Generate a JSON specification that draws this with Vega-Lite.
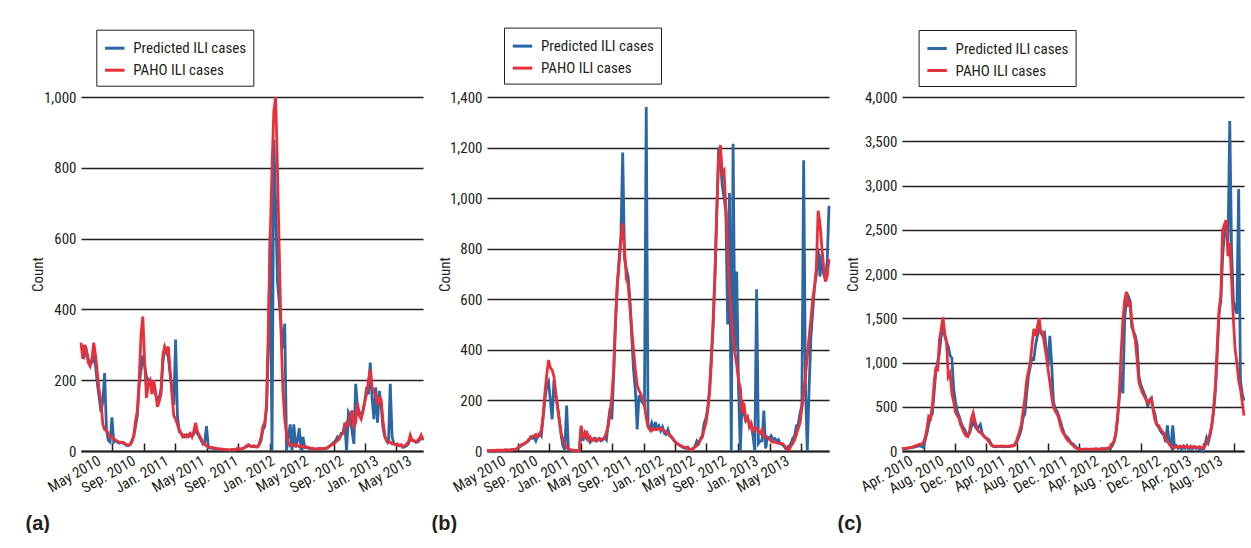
{
"$schema": "https://vega.github.io/schema/vega-lite/v6.json",
"background": "white",
"padding": {"left": 25, "top": 27, "right": 0, "bottom": 0},
"datasets": {
"a": [
{"week":"2010-01-03","predicted":300,"paho":306},{"week":"2010-01-10","predicted":290,"paho":260},{"week":"2010-01-17","predicted":270,"paho":300},{"week":"2010-01-24","predicted":285,"paho":280},{"week":"2010-01-31","predicted":260,"paho":250},{"week":"2010-02-07","predicted":245,"paho":240},{"week":"2010-02-14","predicted":250,"paho":260},{"week":"2010-02-21","predicted":270,"paho":306},{"week":"2010-02-28","predicted":240,"paho":270},{"week":"2010-03-07","predicted":190,"paho":220},
{"week":"2010-03-14","predicted":150,"paho":170},{"week":"2010-03-21","predicted":110,"paho":140},{"week":"2010-03-28","predicted":140,"paho":75},{"week":"2010-04-04","predicted":220,"paho":60},{"week":"2010-04-11","predicted":60,"paho":58},{"week":"2010-04-18","predicted":30,"paho":50},{"week":"2010-04-25","predicted":25,"paho":38},{"week":"2010-05-02","predicted":95,"paho":40},{"week":"2010-05-09","predicted":25,"paho":35},{"week":"2010-05-16","predicted":30,"paho":30},
{"week":"2010-05-23","predicted":25,"paho":28},{"week":"2010-05-30","predicted":22,"paho":25},{"week":"2010-06-06","predicted":25,"paho":24},{"week":"2010-06-13","predicted":22,"paho":25},{"week":"2010-06-20","predicted":20,"paho":22},{"week":"2010-06-27","predicted":16,"paho":18},{"week":"2010-07-04","predicted":15,"paho":16},{"week":"2010-07-11","predicted":18,"paho":18},{"week":"2010-07-18","predicted":30,"paho":25},{"week":"2010-07-25","predicted":40,"paho":45},
{"week":"2010-08-01","predicted":70,"paho":85},{"week":"2010-08-08","predicted":100,"paho":115},{"week":"2010-08-15","predicted":190,"paho":200},{"week":"2010-08-22","predicted":230,"paho":330},{"week":"2010-08-29","predicted":270,"paho":380},{"week":"2010-09-05","predicted":240,"paho":250},{"week":"2010-09-12","predicted":210,"paho":150},{"week":"2010-09-19","predicted":200,"paho":190},{"week":"2010-09-26","predicted":190,"paho":200},{"week":"2010-10-03","predicted":175,"paho":160},
{"week":"2010-10-10","predicted":180,"paho":200},{"week":"2010-10-17","predicted":160,"paho":165},{"week":"2010-10-24","predicted":145,"paho":125},{"week":"2010-10-31","predicted":150,"paho":140},{"week":"2010-11-07","predicted":175,"paho":160},{"week":"2010-11-14","predicted":250,"paho":270},{"week":"2010-11-21","predicted":290,"paho":295},{"week":"2010-11-28","predicted":280,"paho":280},{"week":"2010-12-05","predicted":265,"paho":295},{"week":"2010-12-12","predicted":215,"paho":230},
{"week":"2010-12-19","predicted":175,"paho":160},{"week":"2010-12-26","predicted":130,"paho":100},{"week":"2011-01-02","predicted":315,"paho":90},{"week":"2011-01-09","predicted":100,"paho":75},{"week":"2011-01-16","predicted":55,"paho":60},{"week":"2011-01-23","predicted":50,"paho":50},{"week":"2011-01-30","predicted":45,"paho":40},{"week":"2011-02-06","predicted":40,"paho":45},{"week":"2011-02-13","predicted":45,"paho":40},{"week":"2011-02-20","predicted":40,"paho":45},
{"week":"2011-02-27","predicted":45,"paho":50},{"week":"2011-03-06","predicted":42,"paho":40},{"week":"2011-03-13","predicted":48,"paho":55},{"week":"2011-03-20","predicted":60,"paho":80},{"week":"2011-03-27","predicted":50,"paho":55},{"week":"2011-04-03","predicted":40,"paho":45},{"week":"2011-04-10","predicted":30,"paho":35},{"week":"2011-04-17","predicted":20,"paho":25},{"week":"2011-04-24","predicted":25,"paho":18},{"week":"2011-05-01","predicted":70,"paho":15},
{"week":"2011-05-08","predicted":10,"paho":12},{"week":"2011-05-15","predicted":8,"paho":10},{"week":"2011-05-22","predicted":8,"paho":10},{"week":"2011-05-29","predicted":7,"paho":8},{"week":"2011-06-05","predicted":6,"paho":8},{"week":"2011-06-12","predicted":5,"paho":6},{"week":"2011-06-19","predicted":5,"paho":6},{"week":"2011-06-26","predicted":5,"paho":5},{"week":"2011-07-03","predicted":4,"paho":5},{"week":"2011-07-10","predicted":3,"paho":4},
{"week":"2011-07-17","predicted":4,"paho":4},{"week":"2011-07-24","predicted":3,"paho":3},{"week":"2011-07-31","predicted":2,"paho":3},{"week":"2011-08-07","predicted":4,"paho":5},{"week":"2011-08-14","predicted":3,"paho":3},{"week":"2011-08-21","predicted":5,"paho":4},{"week":"2011-08-28","predicted":6,"paho":8},{"week":"2011-09-04","predicted":5,"paho":6},{"week":"2011-09-11","predicted":6,"paho":5},{"week":"2011-09-18","predicted":7,"paho":8},
{"week":"2011-09-25","predicted":10,"paho":10},{"week":"2011-10-02","predicted":12,"paho":15},{"week":"2011-10-09","predicted":15,"paho":18},{"week":"2011-10-16","predicted":14,"paho":15},{"week":"2011-10-23","predicted":12,"paho":12},{"week":"2011-10-30","predicted":13,"paho":15},{"week":"2011-11-06","predicted":12,"paho":12},{"week":"2011-11-13","predicted":12,"paho":12},{"week":"2011-11-20","predicted":18,"paho":20},{"week":"2011-11-27","predicted":30,"paho":40},
{"week":"2011-12-04","predicted":60,"paho":70},{"week":"2011-12-11","predicted":70,"paho":80},{"week":"2011-12-18","predicted":120,"paho":130},{"week":"2011-12-25","predicted":300,"paho":350},{"week":"2012-01-01","predicted":620,"paho":600},{"week":"2012-01-08","predicted":0,"paho":800},{"week":"2012-01-15","predicted":880,"paho":960},{"week":"2012-01-22","predicted":700,"paho":1000},{"week":"2012-01-29","predicted":480,"paho":800},{"week":"2012-02-05","predicted":420,"paho":560},
{"week":"2012-02-12","predicted":350,"paho":330},{"week":"2012-02-19","predicted":290,"paho":170},{"week":"2012-02-26","predicted":360,"paho":90},{"week":"2012-03-04","predicted":0,"paho":45},{"week":"2012-03-11","predicted":40,"paho":25},{"week":"2012-03-18","predicted":75,"paho":15},{"week":"2012-03-25","predicted":0,"paho":18},{"week":"2012-04-01","predicted":75,"paho":15},{"week":"2012-04-08","predicted":10,"paho":20},{"week":"2012-04-15","predicted":30,"paho":15},
{"week":"2012-04-22","predicted":65,"paho":12},{"week":"2012-04-29","predicted":0,"paho":15},{"week":"2012-05-06","predicted":40,"paho":12},{"week":"2012-05-13","predicted":10,"paho":10},{"week":"2012-05-20","predicted":10,"paho":12},{"week":"2012-05-27","predicted":8,"paho":10},{"week":"2012-06-03","predicted":7,"paho":8},{"week":"2012-06-10","predicted":6,"paho":8},{"week":"2012-06-17","predicted":5,"paho":6},{"week":"2012-06-24","predicted":5,"paho":6},
{"week":"2012-07-01","predicted":6,"paho":6},{"week":"2012-07-08","predicted":6,"paho":7},{"week":"2012-07-15","predicted":7,"paho":7},{"week":"2012-07-22","predicted":5,"paho":6},{"week":"2012-07-29","predicted":7,"paho":8},{"week":"2012-08-05","predicted":8,"paho":8},{"week":"2012-08-12","predicted":12,"paho":10},{"week":"2012-08-19","predicted":15,"paho":15},{"week":"2012-08-26","predicted":20,"paho":18},{"week":"2012-09-02","predicted":25,"paho":20},
{"week":"2012-09-09","predicted":30,"paho":25},{"week":"2012-09-16","predicted":40,"paho":30},{"week":"2012-09-23","predicted":35,"paho":38},{"week":"2012-09-30","predicted":50,"paho":45},{"week":"2012-10-07","predicted":50,"paho":50},{"week":"2012-10-14","predicted":80,"paho":70},{"week":"2012-10-21","predicted":0,"paho":80},{"week":"2012-10-28","predicted":110,"paho":72},{"week":"2012-11-04","predicted":100,"paho":95},{"week":"2012-11-11","predicted":55,"paho":115},
{"week":"2012-11-18","predicted":20,"paho":70},{"week":"2012-11-25","predicted":190,"paho":80},{"week":"2012-12-02","predicted":125,"paho":135},{"week":"2012-12-09","predicted":110,"paho":100},{"week":"2012-12-16","predicted":100,"paho":90},{"week":"2012-12-23","predicted":115,"paho":110},{"week":"2012-12-30","predicted":140,"paho":140},{"week":"2013-01-06","predicted":180,"paho":160},{"week":"2013-01-13","predicted":160,"paho":200},{"week":"2013-01-20","predicted":250,"paho":230},
{"week":"2013-01-27","predicted":150,"paho":180},{"week":"2013-02-03","predicted":90,"paho":165},{"week":"2013-02-10","predicted":180,"paho":160},{"week":"2013-02-17","predicted":80,"paho":130},{"week":"2013-02-24","predicted":170,"paho":150},{"week":"2013-03-03","predicted":130,"paho":145},{"week":"2013-03-10","predicted":65,"paho":85},{"week":"2013-03-17","predicted":40,"paho":45},{"week":"2013-03-24","predicted":30,"paho":28},{"week":"2013-03-31","predicted":20,"paho":25},
{"week":"2013-04-07","predicted":190,"paho":25},{"week":"2013-04-14","predicted":40,"paho":20},{"week":"2013-04-21","predicted":20,"paho":20},{"week":"2013-04-28","predicted":18,"paho":18},{"week":"2013-05-05","predicted":17,"paho":20},{"week":"2013-05-12","predicted":15,"paho":15},{"week":"2013-05-19","predicted":15,"paho":18},{"week":"2013-05-26","predicted":10,"paho":12},{"week":"2013-06-02","predicted":12,"paho":15},{"week":"2013-06-09","predicted":15,"paho":20},
{"week":"2013-06-16","predicted":20,"paho":25},{"week":"2013-06-23","predicted":35,"paho":45},{"week":"2013-06-30","predicted":30,"paho":30},{"week":"2013-07-07","predicted":28,"paho":30},{"week":"2013-07-14","predicted":25,"paho":25},{"week":"2013-07-21","predicted":25,"paho":30},{"week":"2013-07-28","predicted":30,"paho":35},{"week":"2013-08-04","predicted":40,"paho":45},{"week":"2013-08-11","predicted":35,"paho":30}
],
"b": [
{"week":"2010-01-03","predicted":1,"paho":2},{"week":"2010-01-10","predicted":2,"paho":2},{"week":"2010-01-17","predicted":1,"paho":1},{"week":"2010-01-24","predicted":2,"paho":2},{"week":"2010-01-31","predicted":1,"paho":2},{"week":"2010-02-07","predicted":2,"paho":3},{"week":"2010-02-14","predicted":3,"paho":2},{"week":"2010-02-21","predicted":2,"paho":3},{"week":"2010-02-28","predicted":3,"paho":2},{"week":"2010-03-07","predicted":2,"paho":3},
{"week":"2010-03-14","predicted":3,"paho":4},{"week":"2010-03-21","predicted":4,"paho":3},{"week":"2010-03-28","predicted":3,"paho":3},{"week":"2010-04-04","predicted":4,"paho":4},{"week":"2010-04-11","predicted":4,"paho":5},{"week":"2010-04-18","predicted":5,"paho":6},{"week":"2010-04-25","predicted":8,"paho":8},{"week":"2010-05-02","predicted":10,"paho":12},{"week":"2010-05-09","predicted":15,"paho":18},{"week":"2010-05-16","predicted":22,"paho":25},
{"week":"2010-05-23","predicted":25,"paho":28},{"week":"2010-05-30","predicted":30,"paho":32},{"week":"2010-06-06","predicted":35,"paho":35},{"week":"2010-06-13","predicted":40,"paho":45},{"week":"2010-06-20","predicted":55,"paho":50},{"week":"2010-06-27","predicted":50,"paho":58},{"week":"2010-07-04","predicted":55,"paho":60},{"week":"2010-07-11","predicted":40,"paho":65},{"week":"2010-07-18","predicted":60,"paho":55},{"week":"2010-07-25","predicted":70,"paho":60},
{"week":"2010-08-01","predicted":60,"paho":80},{"week":"2010-08-08","predicted":130,"paho":140},{"week":"2010-08-15","predicted":200,"paho":230},{"week":"2010-08-22","predicted":260,"paho":300},{"week":"2010-08-29","predicted":275,"paho":360},{"week":"2010-09-05","predicted":200,"paho":330},{"week":"2010-09-12","predicted":125,"paho":320},{"week":"2010-09-19","predicted":280,"paho":295},{"week":"2010-09-26","predicted":220,"paho":230},{"week":"2010-10-03","predicted":180,"paho":170},
{"week":"2010-10-10","predicted":120,"paho":120},{"week":"2010-10-17","predicted":60,"paho":70},{"week":"2010-10-24","predicted":20,"paho":45},{"week":"2010-10-31","predicted":5,"paho":25},{"week":"2010-11-07","predicted":180,"paho":15},{"week":"2010-11-14","predicted":5,"paho":10},{"week":"2010-11-21","predicted":3,"paho":6},{"week":"2010-11-28","predicted":2,"paho":4},{"week":"2010-12-05","predicted":3,"paho":2},{"week":"2010-12-12","predicted":2,"paho":1},
{"week":"2010-12-19","predicted":1,"paho":0},{"week":"2010-12-26","predicted":0,"paho":2},{"week":"2011-01-02","predicted":90,"paho":100},{"week":"2011-01-09","predicted":40,"paho":60},{"week":"2011-01-16","predicted":70,"paho":55},{"week":"2011-01-23","predicted":50,"paho":80},{"week":"2011-01-30","predicted":60,"paho":45},{"week":"2011-02-06","predicted":35,"paho":55},{"week":"2011-02-13","predicted":45,"paho":40},{"week":"2011-02-20","predicted":50,"paho":45},
{"week":"2011-02-27","predicted":40,"paho":50},{"week":"2011-03-06","predicted":45,"paho":40},{"week":"2011-03-13","predicted":50,"paho":45},{"week":"2011-03-20","predicted":40,"paho":48},{"week":"2011-03-27","predicted":45,"paho":45},{"week":"2011-04-03","predicted":55,"paho":50},{"week":"2011-04-10","predicted":45,"paho":75},{"week":"2011-04-17","predicted":110,"paho":100},{"week":"2011-04-24","predicted":170,"paho":150},{"week":"2011-05-01","predicted":125,"paho":220},
{"week":"2011-05-08","predicted":300,"paho":320},{"week":"2011-05-15","predicted":500,"paho":520},{"week":"2011-05-22","predicted":650,"paho":660},{"week":"2011-05-29","predicted":760,"paho":740},{"week":"2011-06-05","predicted":850,"paho":830},{"week":"2011-06-12","predicted":1180,"paho":900},{"week":"2011-06-19","predicted":760,"paho":800},{"week":"2011-06-26","predicted":720,"paho":680},{"week":"2011-07-03","predicted":690,"paho":660},{"week":"2011-07-10","predicted":600,"paho":570},
{"week":"2011-07-17","predicted":450,"paho":480},{"week":"2011-07-24","predicted":320,"paho":400},{"week":"2011-07-31","predicted":240,"paho":320},{"week":"2011-08-07","predicted":85,"paho":260},{"week":"2011-08-14","predicted":220,"paho":240},{"week":"2011-08-21","predicted":200,"paho":225},{"week":"2011-08-28","predicted":190,"paho":210},{"week":"2011-09-04","predicted":180,"paho":180},{"week":"2011-09-11","predicted":1360,"paho":130},{"week":"2011-09-18","predicted":100,"paho":95},
{"week":"2011-09-25","predicted":85,"paho":85},{"week":"2011-10-02","predicted":110,"paho":80},{"week":"2011-10-09","predicted":80,"paho":90},{"week":"2011-10-16","predicted":115,"paho":85},{"week":"2011-10-23","predicted":90,"paho":85},{"week":"2011-10-30","predicted":100,"paho":90},{"week":"2011-11-06","predicted":80,"paho":88},{"week":"2011-11-13","predicted":95,"paho":85},{"week":"2011-11-20","predicted":70,"paho":80},{"week":"2011-11-27","predicted":65,"paho":75},
{"week":"2011-12-04","predicted":85,"paho":70},{"week":"2011-12-11","predicted":60,"paho":65},{"week":"2011-12-18","predicted":55,"paho":55},{"week":"2011-12-25","predicted":45,"paho":45},{"week":"2012-01-01","predicted":35,"paho":38},{"week":"2012-01-08","predicted":30,"paho":30},{"week":"2012-01-15","predicted":25,"paho":25},{"week":"2012-01-22","predicted":20,"paho":22},{"week":"2012-01-29","predicted":15,"paho":18},{"week":"2012-02-05","predicted":12,"paho":15},
{"week":"2012-02-12","predicted":10,"paho":14},{"week":"2012-02-19","predicted":15,"paho":10},{"week":"2012-02-26","predicted":5,"paho":8},{"week":"2012-03-04","predicted":8,"paho":3},{"week":"2012-03-11","predicted":10,"paho":10},{"week":"2012-03-18","predicted":20,"paho":15},{"week":"2012-03-25","predicted":40,"paho":22},{"week":"2012-04-01","predicted":30,"paho":30},{"week":"2012-04-08","predicted":50,"paho":45},{"week":"2012-04-15","predicted":60,"paho":55},
{"week":"2012-04-22","predicted":110,"paho":85},{"week":"2012-04-29","predicted":130,"paho":110},{"week":"2012-05-06","predicted":170,"paho":160},{"week":"2012-05-13","predicted":250,"paho":230},{"week":"2012-05-20","predicted":380,"paho":350},{"week":"2012-05-27","predicted":500,"paho":520},{"week":"2012-06-03","predicted":700,"paho":700},{"week":"2012-06-10","predicted":950,"paho":950},{"week":"2012-06-17","predicted":1200,"paho":1150},{"week":"2012-06-24","predicted":1150,"paho":1210},
{"week":"2012-07-01","predicted":1050,"paho":1100},{"week":"2012-07-08","predicted":1000,"paho":1110},{"week":"2012-07-15","predicted":950,"paho":960},{"week":"2012-07-22","predicted":500,"paho":800},{"week":"2012-07-29","predicted":1020,"paho":640},{"week":"2012-08-05","predicted":0,"paho":530},{"week":"2012-08-12","predicted":1215,"paho":450},{"week":"2012-08-19","predicted":400,"paho":390},{"week":"2012-08-26","predicted":710,"paho":340},{"week":"2012-09-02","predicted":250,"paho":280},
{"week":"2012-09-09","predicted":0,"paho":250},{"week":"2012-09-16","predicted":200,"paho":150},{"week":"2012-09-23","predicted":150,"paho":190},{"week":"2012-09-30","predicted":120,"paho":125},{"week":"2012-10-07","predicted":130,"paho":135},{"week":"2012-10-14","predicted":110,"paho":95},{"week":"2012-10-21","predicted":100,"paho":110},{"week":"2012-10-28","predicted":60,"paho":80},{"week":"2012-11-04","predicted":0,"paho":90},{"week":"2012-11-11","predicted":640,"paho":90},
{"week":"2012-11-18","predicted":30,"paho":75},{"week":"2012-11-25","predicted":40,"paho":70},{"week":"2012-12-02","predicted":40,"paho":85},{"week":"2012-12-09","predicted":160,"paho":60},{"week":"2012-12-16","predicted":10,"paho":55},{"week":"2012-12-23","predicted":55,"paho":52},{"week":"2012-12-30","predicted":50,"paho":50},{"week":"2013-01-06","predicted":60,"paho":40},{"week":"2013-01-13","predicted":45,"paho":35},{"week":"2013-01-20","predicted":50,"paho":35},
{"week":"2013-01-27","predicted":40,"paho":33},{"week":"2013-02-03","predicted":45,"paho":30},{"week":"2013-02-10","predicted":30,"paho":30},{"week":"2013-02-17","predicted":25,"paho":30},{"week":"2013-02-24","predicted":20,"paho":25},{"week":"2013-03-03","predicted":10,"paho":15},{"week":"2013-03-10","predicted":15,"paho":8},{"week":"2013-03-17","predicted":20,"paho":5},{"week":"2013-03-24","predicted":30,"paho":20},{"week":"2013-03-31","predicted":50,"paho":30},
{"week":"2013-04-07","predicted":60,"paho":45},{"week":"2013-04-14","predicted":100,"paho":65},{"week":"2013-04-21","predicted":105,"paho":90},{"week":"2013-04-28","predicted":150,"paho":110},{"week":"2013-05-05","predicted":180,"paho":170},{"week":"2013-05-12","predicted":1150,"paho":230},{"week":"2013-05-19","predicted":250,"paho":300},{"week":"2013-05-26","predicted":0,"paho":370},{"week":"2013-06-02","predicted":250,"paho":450},{"week":"2013-06-09","predicted":450,"paho":520},
{"week":"2013-06-16","predicted":550,"paho":600},{"week":"2013-06-23","predicted":650,"paho":650},{"week":"2013-06-30","predicted":700,"paho":720},{"week":"2013-07-07","predicted":800,"paho":950},{"week":"2013-07-14","predicted":690,"paho":900},{"week":"2013-07-21","predicted":780,"paho":810},{"week":"2013-07-28","predicted":700,"paho":730},{"week":"2013-08-04","predicted":680,"paho":670},{"week":"2013-08-11","predicted":750,"paho":690},{"week":"2013-08-18","predicted":970,"paho":760}
],
"c": [
{"week":"2010-01-03","predicted":25,"paho":30},{"week":"2010-01-10","predicted":25,"paho":30},{"week":"2010-01-17","predicted":28,"paho":30},{"week":"2010-01-24","predicted":30,"paho":35},{"week":"2010-01-31","predicted":35,"paho":35},{"week":"2010-02-07","predicted":35,"paho":40},{"week":"2010-02-14","predicted":40,"paho":45},{"week":"2010-02-21","predicted":45,"paho":55},{"week":"2010-02-28","predicted":50,"paho":60},{"week":"2010-03-07","predicted":55,"paho":70},
{"week":"2010-03-14","predicted":60,"paho":75},{"week":"2010-03-21","predicted":50,"paho":80},{"week":"2010-03-28","predicted":40,"paho":100},{"week":"2010-04-04","predicted":120,"paho":150},{"week":"2010-04-11","predicted":200,"paho":250},{"week":"2010-04-18","predicted":300,"paho":390},{"week":"2010-04-25","predicted":380,"paho":370},{"week":"2010-05-02","predicted":420,"paho":500},{"week":"2010-05-09","predicted":650,"paho":760},{"week":"2010-05-16","predicted":900,"paho":950},
{"week":"2010-05-23","predicted":1000,"paho":900},{"week":"2010-05-30","predicted":1100,"paho":1250},{"week":"2010-06-06","predicted":1300,"paho":1380},{"week":"2010-06-13","predicted":1400,"paho":1510},{"week":"2010-06-20","predicted":1300,"paho":1330},{"week":"2010-06-27","predicted":1230,"paho":1230},{"week":"2010-07-04","predicted":1180,"paho":840},{"week":"2010-07-11","predicted":1080,"paho":880},{"week":"2010-07-18","predicted":1050,"paho":650},{"week":"2010-07-25","predicted":700,"paho":560},
{"week":"2010-08-01","predicted":560,"paho":440},{"week":"2010-08-08","predicted":450,"paho":400},{"week":"2010-08-15","predicted":400,"paho":370},{"week":"2010-08-22","predicted":330,"paho":290},{"week":"2010-08-29","predicted":280,"paho":250},{"week":"2010-09-05","predicted":250,"paho":200},{"week":"2010-09-12","predicted":200,"paho":170},{"week":"2010-09-19","predicted":180,"paho":160},{"week":"2010-09-26","predicted":200,"paho":230},{"week":"2010-10-03","predicted":280,"paho":370},
{"week":"2010-10-10","predicted":330,"paho":430},{"week":"2010-10-17","predicted":280,"paho":330},{"week":"2010-10-24","predicted":250,"paho":270},{"week":"2010-10-31","predicted":270,"paho":220},{"week":"2010-11-07","predicted":300,"paho":210},{"week":"2010-11-14","predicted":200,"paho":190},{"week":"2010-11-21","predicted":170,"paho":165},{"week":"2010-11-28","predicted":150,"paho":150},{"week":"2010-12-05","predicted":140,"paho":125},{"week":"2010-12-12","predicted":120,"paho":100},
{"week":"2010-12-19","predicted":80,"paho":70},{"week":"2010-12-26","predicted":55,"paho":55},{"week":"2011-01-02","predicted":50,"paho":55},{"week":"2011-01-09","predicted":48,"paho":55},{"week":"2011-01-16","predicted":50,"paho":52},{"week":"2011-01-23","predicted":52,"paho":55},{"week":"2011-01-30","predicted":50,"paho":58},{"week":"2011-02-06","predicted":48,"paho":55},{"week":"2011-02-13","predicted":50,"paho":52},{"week":"2011-02-20","predicted":52,"paho":55},
{"week":"2011-02-27","predicted":50,"paho":55},{"week":"2011-03-06","predicted":55,"paho":58},{"week":"2011-03-13","predicted":60,"paho":55},{"week":"2011-03-20","predicted":70,"paho":60},{"week":"2011-03-27","predicted":80,"paho":100},{"week":"2011-04-03","predicted":130,"paho":160},{"week":"2011-04-10","predicted":180,"paho":220},{"week":"2011-04-17","predicted":250,"paho":300},{"week":"2011-04-24","predicted":380,"paho":450},{"week":"2011-05-01","predicted":420,"paho":600},
{"week":"2011-05-08","predicted":650,"paho":800},{"week":"2011-05-15","predicted":850,"paho":900},{"week":"2011-05-22","predicted":950,"paho":1000},{"week":"2011-05-29","predicted":1050,"paho":1200},{"week":"2011-06-05","predicted":1040,"paho":1380},{"week":"2011-06-12","predicted":1200,"paho":1300},{"week":"2011-06-19","predicted":1300,"paho":1400},{"week":"2011-06-26","predicted":1400,"paho":1500},{"week":"2011-07-03","predicted":1350,"paho":1330},{"week":"2011-07-10","predicted":1300,"paho":1340},
{"week":"2011-07-17","predicted":1330,"paho":1200},{"week":"2011-07-24","predicted":1150,"paho":1080},{"week":"2011-07-31","predicted":950,"paho":920},{"week":"2011-08-07","predicted":1300,"paho":780},{"week":"2011-08-14","predicted":990,"paho":620},{"week":"2011-08-21","predicted":560,"paho":500},{"week":"2011-08-28","predicted":480,"paho":450},{"week":"2011-09-04","predicted":450,"paho":420},{"week":"2011-09-11","predicted":400,"paho":370},{"week":"2011-09-18","predicted":330,"paho":280},
{"week":"2011-09-25","predicted":260,"paho":220},{"week":"2011-10-02","predicted":200,"paho":190},{"week":"2011-10-09","predicted":170,"paho":150},{"week":"2011-10-16","predicted":150,"paho":120},{"week":"2011-10-23","predicted":120,"paho":105},{"week":"2011-10-30","predicted":90,"paho":80},{"week":"2011-11-06","predicted":80,"paho":65},{"week":"2011-11-13","predicted":60,"paho":40},{"week":"2011-11-20","predicted":40,"paho":30},{"week":"2011-11-27","predicted":25,"paho":22},
{"week":"2011-12-04","predicted":20,"paho":20},{"week":"2011-12-11","predicted":15,"paho":18},{"week":"2011-12-18","predicted":18,"paho":20},{"week":"2011-12-25","predicted":20,"paho":22},{"week":"2012-01-01","predicted":15,"paho":20},{"week":"2012-01-08","predicted":18,"paho":18},{"week":"2012-01-15","predicted":20,"paho":20},{"week":"2012-01-22","predicted":15,"paho":22},{"week":"2012-01-29","predicted":20,"paho":20},{"week":"2012-02-05","predicted":22,"paho":25},
{"week":"2012-02-12","predicted":18,"paho":20},{"week":"2012-02-19","predicted":20,"paho":22},{"week":"2012-02-26","predicted":25,"paho":25},{"week":"2012-03-04","predicted":22,"paho":28},{"week":"2012-03-11","predicted":25,"paho":25},{"week":"2012-03-18","predicted":28,"paho":30},{"week":"2012-03-25","predicted":30,"paho":35},{"week":"2012-04-01","predicted":30,"paho":50},{"week":"2012-04-08","predicted":60,"paho":80},{"week":"2012-04-15","predicted":100,"paho":110},
{"week":"2012-04-22","predicted":180,"paho":200},{"week":"2012-04-29","predicted":350,"paho":390},{"week":"2012-05-06","predicted":600,"paho":650},{"week":"2012-05-13","predicted":900,"paho":1100},{"week":"2012-05-20","predicted":650,"paho":1480},{"week":"2012-05-27","predicted":1500,"paho":1700},{"week":"2012-06-03","predicted":1700,"paho":1800},{"week":"2012-06-10","predicted":1750,"paho":1630},{"week":"2012-06-17","predicted":1700,"paho":1690},{"week":"2012-06-24","predicted":1400,"paho":1470},
{"week":"2012-07-01","predicted":1350,"paho":1340},{"week":"2012-07-08","predicted":1300,"paho":1250},{"week":"2012-07-15","predicted":1200,"paho":1030},{"week":"2012-07-22","predicted":850,"paho":780},{"week":"2012-07-29","predicted":750,"paho":710},{"week":"2012-08-05","predicted":700,"paho":660},{"week":"2012-08-12","predicted":650,"paho":620},{"week":"2012-08-19","predicted":600,"paho":580},{"week":"2012-08-26","predicted":500,"paho":540},{"week":"2012-09-02","predicted":580,"paho":560},
{"week":"2012-09-09","predicted":600,"paho":590},{"week":"2012-09-16","predicted":480,"paho":460},{"week":"2012-09-23","predicted":420,"paho":350},{"week":"2012-09-30","predicted":300,"paho":300},{"week":"2012-10-07","predicted":270,"paho":290},{"week":"2012-10-14","predicted":230,"paho":250},{"week":"2012-10-21","predicted":200,"paho":220},{"week":"2012-10-28","predicted":180,"paho":200},{"week":"2012-11-04","predicted":100,"paho":130},{"week":"2012-11-11","predicted":290,"paho":110},
{"week":"2012-11-18","predicted":80,"paho":80},{"week":"2012-11-25","predicted":50,"paho":70},{"week":"2012-12-02","predicted":290,"paho":35},{"week":"2012-12-09","predicted":40,"paho":40},{"week":"2012-12-16","predicted":60,"paho":50},{"week":"2012-12-23","predicted":30,"paho":45},{"week":"2012-12-30","predicted":50,"paho":55},{"week":"2013-01-06","predicted":20,"paho":40},{"week":"2013-01-13","predicted":45,"paho":60},{"week":"2013-01-20","predicted":30,"paho":45},
{"week":"2013-01-27","predicted":60,"paho":50},{"week":"2013-02-03","predicted":20,"paho":35},{"week":"2013-02-10","predicted":40,"paho":55},{"week":"2013-02-17","predicted":25,"paho":40},{"week":"2013-02-24","predicted":50,"paho":50},{"week":"2013-03-03","predicted":30,"paho":45},{"week":"2013-03-10","predicted":40,"paho":35},{"week":"2013-03-17","predicted":20,"paho":50},{"week":"2013-03-24","predicted":30,"paho":40},{"week":"2013-03-31","predicted":0,"paho":30},
{"week":"2013-04-07","predicted":60,"paho":60},{"week":"2013-04-14","predicted":150,"paho":80},{"week":"2013-04-21","predicted":100,"paho":140},{"week":"2013-04-28","predicted":180,"paho":200},{"week":"2013-05-05","predicted":300,"paho":300},{"week":"2013-05-12","predicted":450,"paho":500},{"week":"2013-05-19","predicted":700,"paho":750},{"week":"2013-05-26","predicted":1100,"paho":1200},{"week":"2013-06-02","predicted":1550,"paho":1600},{"week":"2013-06-09","predicted":1700,"paho":1750},
{"week":"2013-06-16","predicted":2200,"paho":2500},{"week":"2013-06-23","predicted":2450,"paho":2560},{"week":"2013-06-30","predicted":2600,"paho":2610},{"week":"2013-07-07","predicted":2300,"paho":2200},{"week":"2013-07-14","predicted":3730,"paho":2350},{"week":"2013-07-21","predicted":2300,"paho":1950},{"week":"2013-07-28","predicted":1700,"paho":1500},{"week":"2013-08-04","predicted":1600,"paho":1150},{"week":"2013-08-11","predicted":1550,"paho":1000},{"week":"2013-08-18","predicted":2960,"paho":800},
{"week":"2013-08-25","predicted":800,"paho":700},{"week":"2013-09-01","predicted":650,"paho":550},{"week":"2013-09-08","predicted":570,"paho":400}
]
},
"hconcat": [
{
"width": 342, "height": 354,
"data": {"name": "a"},
"layer": [
{"mark": {"type": "line", "strokeWidth": 2.8},
 "encoding": {
  "x": {"field": "week", "type": "temporal", "scale": {"domain": [{"year":2010,"month":1,"date":3,"utc":true},{"year":2013,"month":8,"date":11,"utc":true}]},
   "axis": {"orient": "bottom", "values": [{"year":2010,"month":5,"date":1,"utc":true},{"year":2010,"month":9,"date":1,"utc":true},{"year":2011,"month":1,"date":1,"utc":true},{"year":2011,"month":5,"date":1,"utc":true},{"year":2011,"month":9,"date":1,"utc":true},{"year":2012,"month":1,"date":1,"utc":true},{"year":2012,"month":5,"date":1,"utc":true},{"year":2012,"month":9,"date":1,"utc":true},{"year":2013,"month":1,"date":1,"utc":true},{"year":2013,"month":5,"date":1,"utc":true}],
    "labels": false, "ticks": true, "tickSize": -8, "tickWidth": 1.5, "tickColor": "#231f20", "domain": true, "domainColor": "#231f20", "domainWidth": 2, "grid": false, "title": null}},
  "y": {"field": "predicted", "type": "quantitative", "scale": {"domain": [0, 1000], "nice": false},
   "axis": {"values": [0,200,400,600,800,1000], "format": ",d", "title": "Count", "titleX": -44}},
  "color": {"datum": "Predicted ILI cases", "type": "nominal", "scale": {"domain": ["Predicted ILI cases", "PAHO ILI cases"], "range": ["#2b67a4", "#e8303a"]},
   "legend": {"orient": "none", "legendX": 15.3, "legendY": -67.3}}
 }},
{"mark": {"type": "line", "strokeWidth": 2.8},
 "encoding": {
  "x": {"field": "week", "type": "temporal", "scale": {"domain": [{"year":2010,"month":1,"date":3,"utc":true},{"year":2013,"month":8,"date":11,"utc":true}]},
   "axis": {"orient": "bottom", "values": [{"year":2010,"month":2,"date":27,"utc":true},{"year":2010,"month":7,"date":11,"utc":true},{"year":2010,"month":11,"date":15,"utc":true},{"year":2011,"month":4,"date":3,"utc":true},{"year":2011,"month":8,"date":11,"utc":true},{"year":2011,"month":12,"date":28,"utc":true},{"year":2012,"month":5,"date":7,"utc":true},{"year":2012,"month":9,"date":19,"utc":true},{"year":2013,"month":1,"date":31,"utc":true},{"year":2013,"month":6,"date":7,"utc":true}],
    "labelExpr": "['May 2010','Sep. 2010','Jan. 2011','May 2011','Sep. 2011','Jan. 2012','May 2012','Sep. 2012','Jan. 2013','May 2013'][round(datum.index*9)]",
    "ticks": false, "domain": false, "grid": false,
    "title": "(a)", "titleX": -56, "titleY": 72}},
  "y": {"field": "paho", "type": "quantitative", "scale": {"domain": [0, 1000], "nice": false},
   "axis": {"values": [0,200,400,600,800,1000], "format": ",d", "title": "Count", "titleX": -44}},
  "color": {"datum": "PAHO ILI cases", "type": "nominal", "scale": {"domain": ["Predicted ILI cases", "PAHO ILI cases"], "range": ["#2b67a4", "#e8303a"]}}
 }}
],
"resolve": {"axis": {"x": "independent"}}
},
{
"width": 342, "height": 354,
"data": {"name": "b"},
"layer": [
{"mark": {"type": "line", "strokeWidth": 2.8},
 "encoding": {
  "x": {"field": "week", "type": "temporal", "scale": {"domain": [{"year":2010,"month":1,"date":3,"utc":true},{"year":2013,"month":8,"date":18,"utc":true}]},
   "axis": {"orient": "bottom", "values": [{"year":2010,"month":5,"date":1,"utc":true},{"year":2010,"month":9,"date":1,"utc":true},{"year":2011,"month":1,"date":1,"utc":true},{"year":2011,"month":5,"date":1,"utc":true},{"year":2011,"month":9,"date":1,"utc":true},{"year":2012,"month":1,"date":1,"utc":true},{"year":2012,"month":5,"date":1,"utc":true},{"year":2012,"month":9,"date":1,"utc":true},{"year":2013,"month":1,"date":1,"utc":true},{"year":2013,"month":5,"date":1,"utc":true}],
    "labels": false, "ticks": true, "tickSize": -8, "tickWidth": 1.5, "tickColor": "#231f20", "domain": true, "domainColor": "#231f20", "domainWidth": 2, "grid": false, "title": null}},
  "y": {"field": "predicted", "type": "quantitative", "scale": {"domain": [0, 1400], "nice": false},
   "axis": {"values": [0,200,400,600,800,1000,1200,1400], "format": ",d", "title": "Count", "titleX": -43}},
  "color": {"datum": "Predicted ILI cases", "type": "nominal", "scale": {"domain": ["Predicted ILI cases", "PAHO ILI cases"], "range": ["#2b67a4", "#e8303a"]},
   "legend": {"orient": "none", "legendX": 17, "legendY": -69.4}}
 }},
{"mark": {"type": "line", "strokeWidth": 2.8},
 "encoding": {
  "x": {"field": "week", "type": "temporal", "scale": {"domain": [{"year":2010,"month":1,"date":3,"utc":true},{"year":2013,"month":8,"date":18,"utc":true}]},
   "axis": {"orient": "bottom", "values": [{"year":2010,"month":5,"date":1,"utc":true},{"year":2010,"month":9,"date":1,"utc":true},{"year":2011,"month":1,"date":1,"utc":true},{"year":2011,"month":5,"date":1,"utc":true},{"year":2011,"month":9,"date":1,"utc":true},{"year":2012,"month":1,"date":1,"utc":true},{"year":2012,"month":5,"date":1,"utc":true},{"year":2012,"month":9,"date":1,"utc":true},{"year":2013,"month":1,"date":1,"utc":true},{"year":2013,"month":5,"date":1,"utc":true}],
    "labelExpr": "['May 2010','Sep. 2010','Jan. 2011','May 2011','Sep. 2011','Jan. 2012','May 2012','Sep. 2012','Jan. 2013','May 2013'][round(datum.index*9)]",
    "labelOffset": -17, "ticks": false, "domain": false, "grid": false,
    "title": "(b)", "titleX": -56, "titleY": 72}},
  "y": {"field": "paho", "type": "quantitative", "scale": {"domain": [0, 1400], "nice": false},
   "axis": {"values": [0,200,400,600,800,1000,1200,1400], "format": ",d", "title": "Count", "titleX": -43}},
  "color": {"datum": "PAHO ILI cases", "type": "nominal", "scale": {"domain": ["Predicted ILI cases", "PAHO ILI cases"], "range": ["#2b67a4", "#e8303a"]}}
 }}
],
"resolve": {"axis": {"x": "independent"}}
},
{
"width": 342, "height": 354,
"data": {"name": "c"},
"layer": [
{"mark": {"type": "line", "strokeWidth": 2.8},
 "encoding": {
  "x": {"field": "week", "type": "temporal", "scale": {"domain": [{"year":2010,"month":1,"date":3,"utc":true},{"year":2013,"month":9,"date":8,"utc":true}]},
   "axis": {"orient": "bottom", "values": [{"year":2010,"month":4,"date":1,"utc":true},{"year":2010,"month":8,"date":1,"utc":true},{"year":2010,"month":12,"date":1,"utc":true},{"year":2011,"month":4,"date":1,"utc":true},{"year":2011,"month":8,"date":1,"utc":true},{"year":2011,"month":12,"date":1,"utc":true},{"year":2012,"month":4,"date":1,"utc":true},{"year":2012,"month":8,"date":1,"utc":true},{"year":2012,"month":12,"date":1,"utc":true},{"year":2013,"month":4,"date":1,"utc":true},{"year":2013,"month":8,"date":1,"utc":true}],
    "labels": false, "ticks": true, "tickSize": -8, "tickWidth": 1.5, "tickColor": "#231f20", "domain": true, "domainColor": "#231f20", "domainWidth": 2, "grid": false, "title": null}},
  "y": {"field": "predicted", "type": "quantitative", "scale": {"domain": [0, 4000], "nice": false},
   "axis": {"values": [0,500,1000,1500,2000,2500,3000,3500,4000], "format": ",d", "title": "Count", "titleX": -50}},
  "color": {"datum": "Predicted ILI cases", "type": "nominal", "scale": {"domain": ["Predicted ILI cases", "PAHO ILI cases"], "range": ["#2b67a4", "#e8303a"]},
   "legend": {"orient": "none", "legendX": 16.6, "legendY": -67}}
 }},
{"mark": {"type": "line", "strokeWidth": 2.8},
 "encoding": {
  "x": {"field": "week", "type": "temporal", "scale": {"domain": [{"year":2010,"month":1,"date":3,"utc":true},{"year":2013,"month":9,"date":8,"utc":true}]},
   "axis": {"orient": "bottom", "values": [{"year":2010,"month":4,"date":1,"utc":true},{"year":2010,"month":8,"date":1,"utc":true},{"year":2010,"month":12,"date":1,"utc":true},{"year":2011,"month":4,"date":1,"utc":true},{"year":2011,"month":8,"date":1,"utc":true},{"year":2011,"month":12,"date":1,"utc":true},{"year":2012,"month":4,"date":1,"utc":true},{"year":2012,"month":8,"date":1,"utc":true},{"year":2012,"month":12,"date":1,"utc":true},{"year":2013,"month":4,"date":1,"utc":true},{"year":2013,"month":8,"date":1,"utc":true}],
    "labelExpr": "['Apr. 2010','Aug. 2010','Dec. 2010','Apr. 2011','Aug. 2011','Dec. 2011','Apr. 2012','Aug . 2012','Dec. 2012','Apr. 2013','Aug. 2013'][round(datum.index*10)]",
    "labelOffset": -17, "ticks": false, "domain": false, "grid": false,
    "title": "(c)", "titleX": -65, "titleY": 72}},
  "y": {"field": "paho", "type": "quantitative", "scale": {"domain": [0, 4000], "nice": false},
   "axis": {"values": [0,500,1000,1500,2000,2500,3000,3500,4000], "format": ",d", "title": "Count", "titleX": -50}},
  "color": {"datum": "PAHO ILI cases", "type": "nominal", "scale": {"domain": ["Predicted ILI cases", "PAHO ILI cases"], "range": ["#2b67a4", "#e8303a"]}}
 }}
],
"resolve": {"axis": {"x": "independent"}}
}
],
"spacing": 2,
"resolve": {"scale": {"color": "independent", "x": "independent", "y": "independent"}, "legend": {"color": "independent"}},
"config": {
 "font": "Liberation Sans Narrow, Roboto Condensed, DejaVu Sans Condensed, Roboto, sans-serif",
 "view": {"stroke": null},
 "axis": {"labelFontSize": 15, "labelColor": "#231f20", "titleFontSize": 15, "titleFontWeight": "normal", "titleColor": "#231f20", "gridColor": "#231f20", "gridWidth": 1.5},
 "axisY": {"grid": true, "domain": false, "ticks": false, "labelPadding": 5, "titleY": 177, "titleAngle": -90, "titleAlign": "center", "titleBaseline": "middle"},
 "axisX": {"labelAngle": -30, "labelAlign": "right", "labelBaseline": "top", "labelOverlap": false, "labelFlush": false, "labelBound": false, "labelPadding": 2, "titleFont": "Liberation Sans, Arial, sans-serif", "titleFontSize": 20, "titleFontWeight": "bold", "titleAlign": "left", "titleBaseline": "middle", "titleAngle": 0},
 "legend": {"title": null, "symbolType": "stroke", "symbolStrokeWidth": 3, "symbolSize": 380, "labelFontSize": 15, "labelColor": "#231f20", "padding": 7, "rowPadding": 2, "labelOffset": 7, "strokeColor": "#231f20"}
}
}
